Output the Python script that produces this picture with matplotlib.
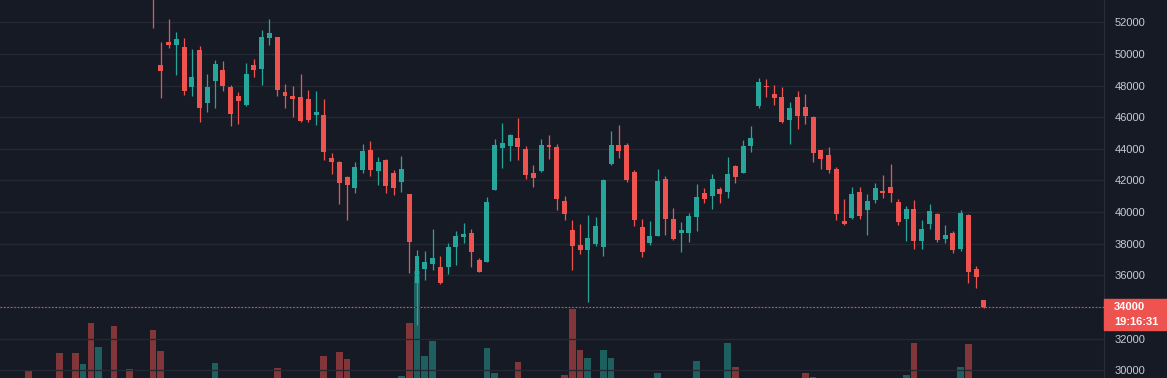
import numpy as np
import matplotlib
matplotlib.use("Agg")
import matplotlib.pyplot as plt
from matplotlib.patches import Rectangle
from matplotlib.transforms import IdentityTransform

# daily candles, oldest first; the first 20 trade above the visible price range
opens = [57200, 57600, 58400, 57800, 56300, 57100, 57400, 56700, 55300, 56400,
         54900, 56900, 54200, 57300, 57900, 55500, 56200, 54800, 55400,
         55200, 49300, 50760, 50590, 50440, 47930, 50250, 46920, 48310, 48990,
         47910, 47340, 46790, 49300, 49070, 51030, 51070, 47590, 47340, 47280,
         47150, 46140, 46140, 43420, 43170, 42220, 41520, 42660, 43930, 42600,
         43290, 42470, 41900, 41140, 35520, 36400, 36720, 36530, 36530, 37790,
         38420, 38680, 36970, 36840, 41400, 44050, 44180, 44690, 43990, 42470,
         42600, 44240, 44120, 40700, 38870, 37920, 37600, 37980, 37790, 43040,
         44240, 44240, 42540, 39060, 38050, 38490, 42090, 39560, 38680, 38680,
         39690, 41210, 41020, 41460, 41270, 42910, 42470, 44180, 46710, 47970,
         47470, 47280, 45820, 47280, 46650, 46010, 43930, 43610, 42720, 39440,
         39630, 41270, 40130, 40760, 41330, 41590, 40640, 39560, 40200, 38170,
         39250, 39880, 38300, 38680, 37670, 39820, 36400, 34440]
highs = [58100, 58900, 59200, 58300, 57600, 58000, 57900, 57100, 56800, 56900,
         57200, 57300, 57800, 58400, 58200, 56600, 56500, 55900, 56100,
         55600, 50760, 52210, 51390, 51010, 50310, 50500, 48730, 49620, 49550,
         48040, 47590, 49430, 49680, 51520, 52210, 51100, 48100, 47970, 48730,
         47720, 47660, 47150, 43740, 43230, 42280, 43170, 44310, 44500, 43480,
         43360, 42660, 43550, 41160, 37600, 37540, 38930, 37220, 38050, 38800,
         39310, 38930, 37100, 40950, 44620, 45630, 44940, 45950, 44180, 42980,
         44620, 44880, 44310, 41020, 39500, 39250, 39820, 39690, 42090, 45130,
         45510, 44370, 42660, 39560, 39440, 42720, 42280, 40260, 39370, 39940,
         41780, 41520, 42410, 41590, 43480, 42980, 44560, 45440, 48480, 48420,
         48040, 47910, 46960, 47660, 47470, 46080, 43950, 44120, 42850, 40830,
         41590, 41590, 41140, 41840, 42350, 43040, 40830, 40390, 40760, 39500,
         40510, 39940, 39180, 38800, 40130, 39880, 36590, 34440]
lows = [56400, 57000, 57300, 55800, 55900, 56600, 56200, 54900, 54800, 54600,
        54600, 53900, 54000, 56900, 55100, 55000, 54400, 54300, 54600,
        51660, 47240, 50400, 48690, 47430, 47360, 45720, 46350, 46600, 47680,
        45470, 45590, 46730, 48540, 48060, 50590, 47360, 46600, 46010, 45700,
        45700, 45510, 43290, 42410, 40510, 39500, 41210, 42470, 42280, 41710,
        41210, 41080, 41270, 36150, 32860, 35700, 36340, 35450, 36080, 36650,
        38050, 36530, 36190, 36820, 41380, 42790, 43230, 43290, 42090, 41590,
        42540, 43360, 40130, 39500, 36340, 37350, 34310, 37860, 37220, 42980,
        43420, 41900, 39120, 37160, 37920, 38470, 38550, 38230, 37480, 38110,
        38800, 40570, 40200, 40570, 40890, 41840, 42460, 43800, 46580, 47280,
        46770, 45630, 44310, 45250, 45570, 43170, 42720, 42470, 39500, 39180,
        39560, 39560, 38550, 40570, 40890, 40640, 39180, 38170, 37670, 37670,
        38930, 38110, 38050, 37410, 37540, 35520, 35200, 33930]
closes = [57600, 58400, 57800, 56300, 57100, 57400, 56700, 55300, 56400, 54900,
          56900, 54200, 57300, 57900, 55500, 56200, 54800, 55400, 55200,
          53800, 48940, 50570, 50950, 47680, 48540, 46600, 47910, 49360, 47990,
          46220, 47050, 48730, 49010, 51070, 51330, 47740, 47360, 47150, 45760,
          45840, 46330, 43820, 43170, 41860, 41710, 42850, 43860, 42660, 43170,
          41650, 41520, 42720, 38110, 37220, 36840, 37100, 35520, 37790, 38490,
          38610, 37480, 36210, 40640, 44240, 44370, 44880, 44120, 42350, 42160,
          44240, 44120, 40830, 39880, 37860, 37600, 38360, 39120, 42030, 44240,
          43860, 42030, 39500, 37480, 38490, 41970, 39560, 38300, 38870, 39750,
          40950, 40830, 42090, 41140, 42410, 42220, 44180, 44690, 48230, 47910,
          47210, 45700, 46580, 46080, 46080, 43740, 43360, 42660, 39880, 39250,
          41140, 39750, 40700, 41520, 41210, 41210, 39370, 40200, 38170, 38930,
          40070, 38230, 38550, 37600, 39940, 36210, 35900, 34000]
volumes = [14, 11, 18, 30, 12, 9, 16, 47, 19, 47,
           36, 77, 53, 15, 74, 17, 31, 13, 20,
           70, 49, 21, 14, 19, 12, 20, 10, 37, 13,
           18, 9, 16, 7, 15, 11, 32, 12, 8, 14,
           17, 9, 44, 13, 48, 41, 15, 18, 12, 10,
           19, 16, 24, 77, 129, 44, 59, 17, 14, 12,
           9, 15, 11, 52, 27, 13, 10, 38, 16, 8,
           14, 7, 20, 25, 91, 50, 42, 18, 50, 42,
           17, 19, 21, 20, 13, 27, 18, 12, 9, 15,
           39, 11, 14, 8, 57, 33, 19, 16, 21, 10,
           12, 15, 18, 13, 27, 23, 9, 11, 20, 14,
           10, 13, 12, 8, 7, 15, 12, 25, 57, 11,
           9, 16, 10, 13, 33, 56, 19, 6]

time_grid = [17, 28, 39, 59, 78, 89, 101, 121]   # candle index of each time gridline
price_ticks = list(range(30000, 52001, 2000))
countdown = "19:16:31"

bg = "#161a25"
grid_col = "#242833"
up_col = "#26a69a"
down_col = "#ef5350"
text_col = "#c8cbd2"

plt.rcParams["font.family"] = ["Liberation Sans", "DejaVu Sans"]

o = np.array(opens); h = np.array(highs); l = np.array(lows); c = np.array(closes)
x = np.arange(len(o))
cols = np.where(c >= o, up_col, down_col)

fig = plt.figure(figsize=(11.67, 3.78), dpi=100, facecolor=bg)
ax_vol = fig.add_axes([0, 0, 1104 / 1167, 1])
ax = ax_vol.twinx()

# volume pane, its base sits below the cropped bottom edge
ax_vol.set_facecolor(bg)
ax_vol.bar(x, volumes, width=0.86, color=cols, alpha=0.5)
ax_vol.set_ylim(22, 400)
ax_vol.set_yticks([])
ax_vol.tick_params(axis="x", length=0, labelbottom=False)
for s in ax_vol.spines.values():
    s.set_visible(False)

# candles
ax.vlines(x, l, h, colors=cols, lw=0.9)
ax.bar(x, np.maximum(np.abs(c - o), 50), bottom=np.minimum(o, c), width=0.64, color=cols)
ax.axhline(c[-1], color=down_col, lw=0.8, ls=(0, (1.3, 1.8)))

ax.set_xlim(-0.7, 141.47)
ax.set_ylim(29513, 53410)
ax.set_yticks(price_ticks)
ax.set_xticks(time_grid)
ax.grid(True, color=grid_col, lw=1)
ax.set_axisbelow(True)
ax.tick_params(axis="x", length=0, labelbottom=False)
ax.tick_params(axis="y", length=0, pad=7.5, labelsize=8, labelcolor=text_col)
for name, s in ax.spines.items():
    s.set_visible(name == "right")
ax.spines["right"].set_color("#2a2e39")

# last price tag on the scale
fig.canvas.draw()
y_px = ax.transData.transform((0, c[-1]))[1]
fig.add_artist(Rectangle((1104, y_px - 23), 70, 31, transform=IdentityTransform(),
                         color=down_col, zorder=10))
fig.text(1114 / 1167, y_px / 378, f"{c[-1]:.0f}", color="white", fontsize=8,
         fontweight="bold", va="center", ha="left", zorder=11)
fig.text(1114 / 1167, (y_px - 15) / 378, countdown, color="white", fontsize=8,
         fontweight="bold", va="center", ha="left", zorder=11)

fig.savefig("out.png", dpi=100, facecolor=bg)
